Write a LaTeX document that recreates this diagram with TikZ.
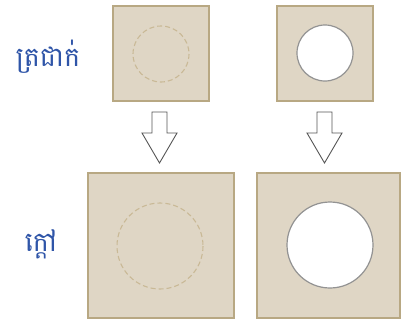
\documentclass[tikz,border=0pt]{standalone}
\usepackage{fontspec}
\newfontfamily\khmerfont[Script=Khmer]{Battambang}
\definecolor{plate}{HTML}{DFD6C5}
\definecolor{plateedge}{HTML}{B8A883}
\definecolor{dashc}{HTML}{C9B996}
\definecolor{labelblue}{HTML}{2F55A8}
\definecolor{arrowc}{HTML}{555555}
\tikzset{
  platebox/.style={fill=plate, draw=plateedge, line width=1.2pt},
  hiddenhole/.style={draw=dashc, line width=1.1pt, dash pattern=on 5pt off 3pt},
  openhole/.style={fill=white, draw=gray!85, line width=1.2pt},
  blockarrow/.style={fill=white, draw=arrowc, line width=0.9pt, line join=miter},
  lbl/.style={text=labelblue, font=\khmerfont\fontsize{27}{32}\selectfont, inner sep=0pt}
}
\begin{document}
\begin{tikzpicture}[x=1pt,y=-1pt]
\useasboundingbox (0,0) rectangle (401,322);
% top plates
\draw[platebox] (113,6) rectangle (209,101);
\draw[hiddenhole] (161,54) circle (28);
\draw[platebox] (277,6) rectangle (373,101);
\draw[openhole] (325,53) circle (28);
% arrows
\draw[blockarrow] (152,112) -- (167,112) -- (167,133) -- (177,133) -- (159.5,163) -- (142,133) -- (152,133) -- cycle;
\draw[blockarrow] (317,112) -- (332,112) -- (332,133) -- (342,133) -- (324.5,163) -- (307,133) -- (317,133) -- cycle;
% bottom plates
\draw[platebox] (88,173) rectangle (234,318);
\draw[hiddenhole] (160,246) circle (43);
\draw[platebox] (257,173) rectangle (400,318);
\draw[openhole] (330,245) circle (43);
% labels
\node[lbl] (cold) at (48,57) {ត្រជាក់};
\node[lbl] (hot) at (41,244) {ក្តៅ};
\end{tikzpicture}
\end{document}
